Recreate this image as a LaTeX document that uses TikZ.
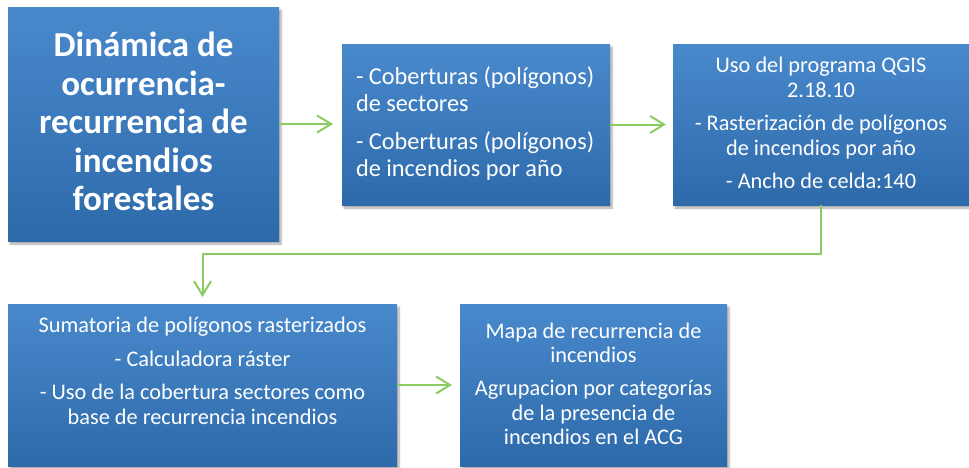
\documentclass[tikz,border=0pt]{standalone}
\usepackage{fontspec}
\setmainfont{Carlito}
\usetikzlibrary{arrows.meta,shadows.blur}
\definecolor{boxtop}{RGB}{72,137,204}
\definecolor{boxbot}{RGB}{46,106,170}
\definecolor{arrowgreen}{RGB}{138,204,96}
\tikzset{
  box/.style={draw=none, top color=boxtop, bottom color=boxbot, anchor=north west,
    inner sep=0pt, outer sep=0pt,
    blur shadow={shadow xshift=2pt, shadow yshift=-3pt, shadow blur steps=8, shadow opacity=35}},
  txt/.style={text=white, inner sep=0pt, outer sep=0pt},
  bigtxt/.style={txt, font=\fontsize{35}{38.5}\bfseries\selectfont, align=center, anchor=north},
  midtxt/.style={txt, font=\fontsize{24.3}{27}\selectfont, align=left, anchor=north west},
  smalltxt/.style={txt, font=\fontsize{22.3}{24.5}\selectfont, align=center, anchor=north},
  conn/.style={draw=arrowgreen, line width=2pt,
    -{Straight Barb[length=14pt, width=17pt]}},
}
\begin{document}
\begin{tikzpicture}[x=1pt, y=-1pt]
\useasboundingbox (0,0) rectangle (969,467);
% boxes
\node[box, minimum width=271pt, minimum height=234pt] (b1) at (8,7) {};
\node[box, minimum width=268pt, minimum height=161pt] (b2) at (342,44) {};
\node[box, minimum width=296pt, minimum height=161pt] (b3) at (673,44) {};
\node[box, minimum width=389pt, minimum height=162pt] (b4) at (8,304) {};
\node[box, minimum width=267pt, minimum height=162pt] (b5) at (460,304) {};
% texts
\node[bigtxt] (t1) at (143.5,30) {\strut Dinámica de\\ocurrencia-\\recurrencia de\\incendios\\forestales};
\node[midtxt] (t2) at (356,66) {\strut - Coberturas (polígonos)\\de sectores\\[11pt]- Coberturas (polígonos)\\de incendios por año};
\node[smalltxt, font=\fontsize{22.3}{25}\selectfont] (t3) at (821,54.5) {\strut Uso del programa QGIS\\2.18.10\\[8pt]- Rasterización de polígonos\\de incendios por año\\[8pt]- Ancho de celda:140};
\node[smalltxt] (t4) at (202.5,314.85) {\strut Sumatoria de polígonos rasterizados\\[9.5pt]- Calculadora ráster\\[9pt]- Uso de la cobertura sectores como\\base de recurrencia incendios};
\node[smalltxt] (t5) at (593.5,320.85) {\strut Mapa de recurrencia de\\incendios\\[8.5pt]Agrupacion por categorías\\de la presencia de\\incendios en el ACG};
% connectors
\draw[conn, shorten >=9pt] (b1.east) -- (b1.east -| b2.west);
\draw[conn, shorten >=7pt] (b2.east) -- (b2.east -| b3.west);
\draw[conn, shorten >=7pt] (b3.south) |- ([yshift=50pt]b4.north) -- (b4.north);
\draw[conn, shorten >=8pt] (b4.east) -- (b4.east -| b5.west);
\end{tikzpicture}
\end{document}
